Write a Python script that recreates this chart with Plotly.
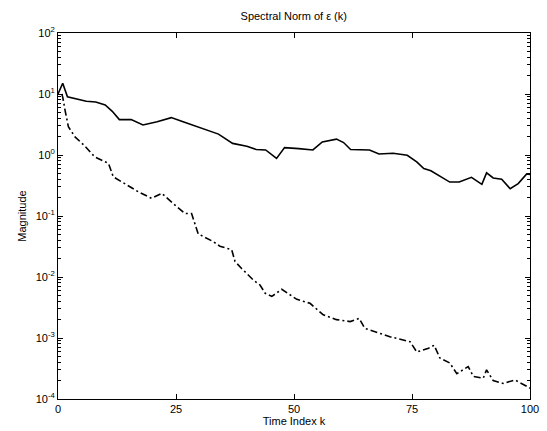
import plotly.graph_objects as go

# Solid curve
k_solid = [0, 1, 2, 4, 6, 8, 10, 11.5, 13, 15.5, 18, 21, 24, 26.5, 29, 31, 34, 37, 40, 42,
           44, 46.3, 48, 51, 54, 56, 59, 60.5, 62, 66, 68, 71, 74, 76, 77.5, 79, 81, 83,
           85, 87.6, 89.8, 90.8, 92.2, 94, 95.8, 97.5, 99.3, 100]
v_solid = [10, 15, 9, 8.2, 7.6, 7.4, 6.6, 5.2, 3.8, 3.8, 3.1, 3.5, 4.1, 3.5, 3.0, 2.7,
           2.2, 1.55, 1.39, 1.23, 1.21, 0.88, 1.32, 1.27, 1.21, 1.64, 1.82, 1.6, 1.23,
           1.21, 1.04, 1.07, 0.99, 0.77, 0.60, 0.55, 0.45, 0.36, 0.36, 0.43, 0.33, 0.51,
           0.42, 0.40, 0.28, 0.34, 0.49, 0.48]

# Dash-dot curve
k_dash = [0.8, 1, 1.5, 2.2, 3.6, 5.5, 7.8, 10.7, 11.7, 14.6, 17, 19.8, 22, 24.4, 26.9,
          28.3, 29.7, 32.9, 34.3, 36.8, 37.5, 38.9, 41.4, 42.8, 43.9, 45.3, 47.4, 50.6,
          53.4, 56.2, 59, 61.9, 63.8, 65, 67.5, 70.3, 74.6, 76, 78.5, 79.7, 80.9, 83,
          84.5, 85.9, 86.9, 88, 90.1, 90.8, 92.2, 94.3, 96.8, 99.3, 100]
v_dash = [10, 8.9, 5.4, 2.9, 1.98, 1.45, 0.93, 0.73, 0.44, 0.32, 0.25, 0.195, 0.235,
          0.16, 0.11, 0.11, 0.051, 0.038, 0.032, 0.028, 0.018, 0.0138, 0.0089, 0.0074,
          0.0054, 0.0048, 0.0063, 0.0043, 0.0037, 0.0024, 0.0020, 0.00186, 0.0021,
          0.00144, 0.00123, 0.00105, 0.00087, 0.00059, 0.00068, 0.00076, 0.00047,
          0.00039, 0.00026, 0.0003, 0.00034, 0.000234, 0.00022, 0.0003, 0.0002,
          0.00018, 0.000205, 0.000162, 0.00015]

x_ticks = [0, 25, 50, 75, 100]
y_tickvals = [1e-4, 1e-3, 1e-2, 1e-1, 1, 10, 100]
y_ticktext = ["10<sup>-4</sup>", "10<sup>-3</sup>", "10<sup>-2</sup>", "10<sup>-1</sup>",
              "10<sup>0</sup>", "10<sup>1</sup>", "10<sup>2</sup>"]
decades = [1e-4, 1e-3, 1e-2, 1e-1, 1, 10]
minor_vals = [d * m for d in decades for m in range(2, 10)]

font = "Liberation Sans, Arial, Helvetica, sans-serif"
ink = "#000000"

fig = go.Figure()
fig.add_trace(go.Scatter(x=k_solid, y=v_solid, mode="lines",
                         line=dict(color=ink, width=1.6), showlegend=False))
fig.add_trace(go.Scatter(x=k_dash, y=v_dash, mode="lines",
                         line=dict(color=ink, width=1.6, dash="7px,3px,2px,3px"),
                         showlegend=False))

fig.update_layout(
    width=547, height=431,
    margin=dict(l=58, r=17, t=33, b=32),
    paper_bgcolor="white", plot_bgcolor="white",
    font=dict(family=font, size=11, color=ink),
    title=dict(text="Spectral Norm of ε (k)", x=0.537, xanchor="center",
               y=0.962, yanchor="middle", font=dict(size=11, color=ink)),
)
fig.update_xaxes(
    range=[0, 100], tickvals=x_ticks, ticks="inside", ticklen=5, tickcolor=ink,
    showline=True, linecolor=ink, linewidth=1, mirror="ticks",
    showgrid=False, zeroline=False, automargin=False,
    title=dict(text="Time Index k", standoff=0, font=dict(size=11, color=ink)),
    tickfont=dict(size=11, color=ink),
)
fig.update_yaxes(
    type="log", range=[-4, 2], tickvals=y_tickvals, ticktext=y_ticktext,
    ticks="inside", ticklen=5, tickcolor=ink,
    minor=dict(tickmode="array", tickvals=minor_vals, ticks="inside", ticklen=3,
               tickcolor=ink, showgrid=False),
    showline=True, linecolor=ink, linewidth=1, mirror="ticks",
    showgrid=False, zeroline=False, automargin=False,
    title=dict(text="Magnitude", standoff=6, font=dict(size=11, color=ink)),
    tickfont=dict(size=11, color=ink),
)

fig.write_html("out.html")
